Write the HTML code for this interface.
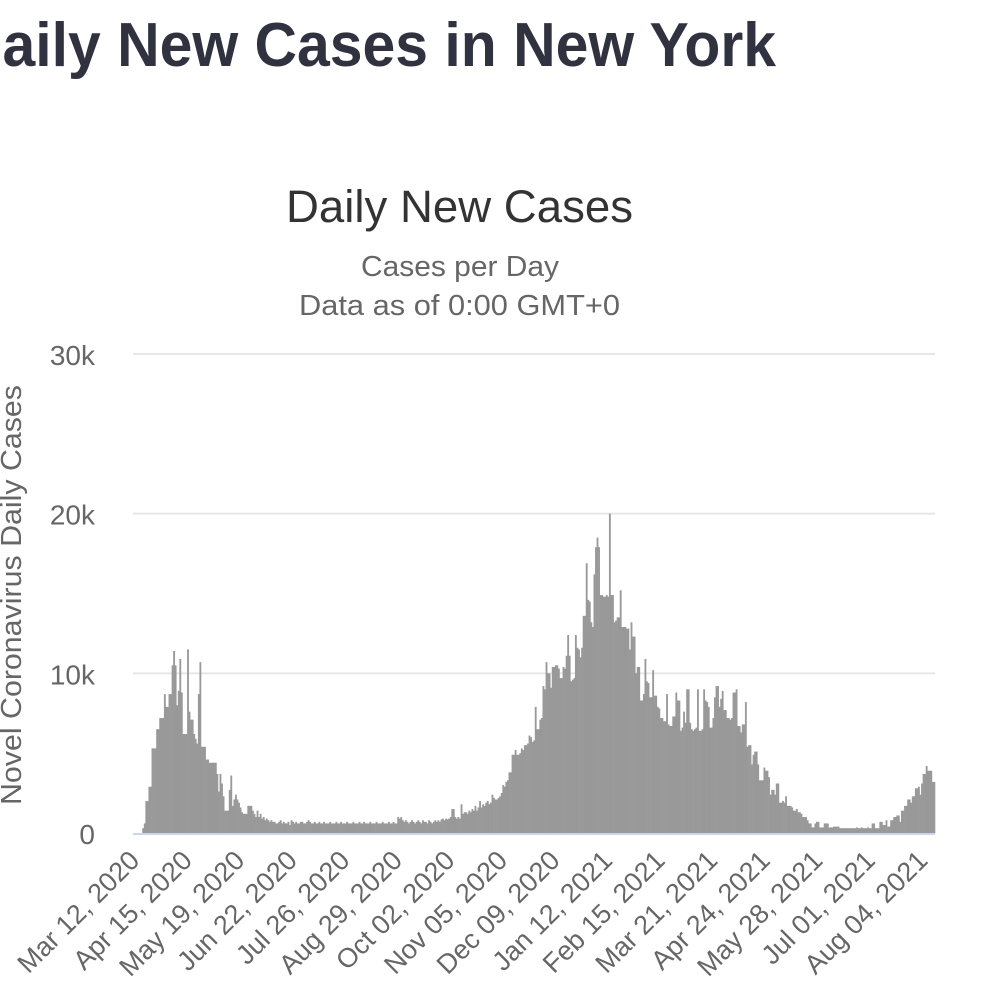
<!DOCTYPE html>
<html><head><meta charset="utf-8"><style>
html,body{margin:0;padding:0;background:#fff;width:999px;height:989px;overflow:hidden}
svg{display:block;font-family:"Liberation Sans",Arial,sans-serif}
</style></head><body>
<svg id="chart" width="999" height="989" viewBox="0 0 999 989" xmlns="http://www.w3.org/2000/svg">
<text x="-40" y="66" font-size="62" font-weight="bold" fill="#30333f" textLength="816" lengthAdjust="spacingAndGlyphs">Daily New Cases in New York</text>
<text x="286" y="222" font-size="45" fill="#333" textLength="347" lengthAdjust="spacingAndGlyphs">Daily New Cases</text>
<text x="361" y="276" font-size="29" fill="#666" textLength="198" lengthAdjust="spacingAndGlyphs">Cases per Day</text>
<text x="299" y="315" font-size="29" fill="#666" textLength="321" lengthAdjust="spacingAndGlyphs">Data as of 0:00 GMT+0</text>
<text transform="translate(21,595) rotate(-90)" font-size="29" fill="#666" text-anchor="middle" textLength="420" lengthAdjust="spacingAndGlyphs">Novel Coronavirus Daily Cases</text>
<g id="grid"></g>
<g id="bars"></g>
<g id="xaxis"></g>
<g id="yaxis"></g>
</svg>
<script>
const startDate = "2020-03-06";
const xTickLabels = ["Mar 12, 2020","Apr 15, 2020","May 19, 2020","Jun 22, 2020","Jul 26, 2020","Aug 29, 2020","Oct 02, 2020","Nov 05, 2020","Dec 09, 2020","Jan 12, 2021","Feb 15, 2021","Mar 21, 2021","Apr 24, 2021","May 28, 2021","Jul 01, 2021","Aug 04, 2021"];
const yTickValues = [0,10000,20000,30000];
const yTickLabels = ["0","10k","20k","30k"];
const preOutbreak = [0,0,0,0,0,0];
const waveSpring2020 = [0.3,0.6,2.0,2.0,2.9,2.9,5.3,5.3,5.3,6.5,6.5,7.2,7.2,7.2,8.7,7.9,7.9,8.7,8.7,10.5,11.4,10.5,8.0,8.9,10.9,8.8,6.2,6.2,6.2,11.5,7.6,7.1,7.1,6.2,5.9,5.6,8.7,10.7,5.4,5.4,5.4,4.6,4.6,4.4,4.4,4.4,4.4,4.4,3.7,2.6,3.7,3.1,2.3,1.4,1.4,1.4,2.7,3.6,1.7,2.1,2.4,2.1,1.9,1.6,1.3,1.2,1.2,1.2,1.7,1.7,1.7,1.4,1.2,1.0,1.4,1.0,1.2,0.9,1.0,0.8,0.9,0.8,0.7,0.8,0.7];
const summer2020 = [0.7,0.6,0.6,0.7,0.8,0.6,0.7,0.6,0.6,0.7,0.5,0.8,0.7,0.6,0.7,0.6,0.6,0.7,0.7,0.6,0.6,0.7,0.8,0.7,0.6,0.6,0.7,0.6,0.6,0.7,0.6,0.6,0.7,0.6,0.6,0.6,0.7,0.6,0.6,0.6,0.7,0.6,0.6,0.7,0.6,0.6,0.6,0.7,0.6,0.6,0.6,0.7,0.6,0.6,0.6,0.7,0.6,0.6,0.7,0.6,0.6,0.6,0.7,0.6,0.6,0.6,0.7,0.6,0.6,0.6,0.7,0.6,0.6,0.6,0.7,0.6,0.6,0.7,0.6,0.6,1.0,0.9,1.0,0.8,0.7,0.8,0.7,0.6,0.7,0.8,0.7,0.6,0.7,0.8];
const winter2020 = [0.7,0.6,0.8,0.7,0.7,0.6,0.8,0.7,0.6,0.7,0.8,0.7,0.8,0.7,0.85,0.9,0.8,0.9,0.85,0.9,1.0,1.5,1.5,1.0,0.9,1.0,0.9,1.8,1.2,1.3,1.3,1.2,1.4,1.3,1.5,1.4,1.7,1.4,1.6,2.0,1.6,1.8,1.7,1.9,2.0,1.8,1.9,2.4,2.2,2.1,2.1,2.2,2.3,2.5,3.0,2.9,3.2,3.3,3.8,3.8,4.9,4.9,5.2,4.9,4.9,5.0,5.3,5.2,5.5,5.5,5.6,6.1,6.0,5.7,5.8,7.9,6.5,6.5,7.1,7.2,9.2,9.0,10.7,10.0,10.0,9.1,10.4,10.4,10.5,10.5,10.3,9.7,9.7,10.4,10.3,11.1,12.4,11.1,9.5,9.6,9.7,12.4,11.6,11.5,11.0,11.6,13.6,13.6,16.9,14.6,14.5,13.2,12.9,16.2,17.9,18.5,17.9,14.9,14.9,14.8,14.8,14.9,14.8,20.0,14.9,14.9,13.2,13.3,13.5,13.5,15.2,12.9,12.9,12.9,12.8,12.8,11.5,13.2,12.3,12.3,10.0,10.4,10.4,8.3,8.3,8.7,10.9,9.5,9.4,8.5,8.5,10.2,8.6,8.6,7.9,7.8,7.2,7.2,7.0,7.0,8.7,6.8,6.7,6.7,7.3,7.3,8.8,8.3,8.3];
const spring2021 = [6.4,6.6,7.6,6.9,9.0,9.0,6.9,6.5,6.4,6.5,6.6,9.0,6.4,6.4,6.5,9.0,8.3,8.2,7.9,6.6,6.6,7.2,8.5,9.2,9.2,7.9,8.4,8.9,7.7,7.7,7.2,7.2,7.1,7.2,8.8,8.8,9.0,6.7,6.7,6.3,6.8,6.8,8.2,5.4,5.5,5.5,4.3,4.9,5.1,5.1,4.3,3.3,3.3,3.3,4.1,3.9,3.9,3.5,2.4,2.7,2.7,2.4,3.1,3.1,1.9,1.9,2.0,1.9,2.3,1.7,1.7,1.7,1.6,1.4,1.4,1.5,1.3,1.3,1.2,1.0,1.0,1.0,0.8,0.6,0.6,0.35,0.35,0.6,0.7,0.7,0.35,0.35,0.35,0.6,0.6,0.6,0.35,0.35,0.35,0.4,0.4,0.4,0.4,0.3,0.3,0.3,0.3,0.3,0.3,0.3,0.3,0.3,0.3,0.3,0.35,0.3,0.3,0.35,0.3,0.3,0.3,0.35,0.3,0.3,0.6,0.6,0.3,0.3,0.3,0.7,0.7,0.5,0.5,0.8,0.4,0.4,0.8,0.8,1.0,1.0,1.1,1.1,0.7,1.4,1.4,1.7,1.7,2.1,2.1,1.9,2.3,2.3,2.8,2.8,2.9,2.4,3.1,3.7,3.7,4.2,3.9,3.9,3.9,3.2,3.2];

const values = [].concat(preOutbreak, waveSpring2020, summer2020, winter2020, spring2021).map(v => v * 1000);

const NS = "http://www.w3.org/2000/svg";
const plotLeft = 133, plotRight = 935, plotTop = 354, plotBottom = 833;
const yMax = 30000;
const bw = (plotRight - plotLeft) / values.length;
function xScale(i){ return plotLeft + i * bw; }
function yScale(v){ return plotBottom - (v / yMax) * (plotBottom - plotTop); }
function dayIndex(label){ return Math.round((new Date(label + " UTC") - new Date(startDate + "T00:00:00Z")) / 86400000); }

const grid = document.getElementById("grid");
const yaxis = document.getElementById("yaxis");
yTickValues.forEach((v, k) => {
  const y = yScale(v);
  if (v > 0) {
    const ln = document.createElementNS(NS, "line");
    
    
    ln.setAttribute("x1", plotLeft); ln.setAttribute("x2", plotRight);
    ln.setAttribute("y1", y); ln.setAttribute("y2", y);
    ln.setAttribute("stroke", "#e6e6e6"); ln.setAttribute("stroke-width", "2");
    grid.appendChild(ln);
  }
  const t = document.createElementNS(NS, "text");
  
  
  t.setAttribute("x", 95); t.setAttribute("y", y + 11);
  t.setAttribute("font-size", "28"); t.setAttribute("fill", "#666");
  t.setAttribute("text-anchor", "end");
  t.textContent = yTickLabels[k];
  yaxis.appendChild(t);
});

const bars = document.getElementById("bars");
values.forEach((v, i) => {
  if (v <= 0) return;
  const r = document.createElementNS(NS, "rect");
  
  
  r.setAttribute("x", xScale(i)); r.setAttribute("width", bw + 0.3);
  r.setAttribute("y", yScale(v)); r.setAttribute("height", plotBottom - yScale(v));
  r.setAttribute("fill", "#999999");
  bars.appendChild(r);
});

const xaxis = document.getElementById("xaxis");
const axisLine = document.createElementNS(NS, "line");


axisLine.setAttribute("x1", plotLeft); axisLine.setAttribute("x2", plotRight);
axisLine.setAttribute("y1", plotBottom + 1); axisLine.setAttribute("y2", plotBottom + 1);
axisLine.setAttribute("stroke", "#ccd6eb"); axisLine.setAttribute("stroke-width", "2");
xaxis.appendChild(axisLine);
xTickLabels.forEach(lbl => {
  const x = xScale(dayIndex(lbl) + 0.5);
  const t = document.createElementNS(NS, "text");
  
  
  t.setAttribute("transform", "translate(" + (x - 2) + "," + 862 + ") rotate(-45)");
  t.setAttribute("font-size", "27"); t.setAttribute("fill", "#666");
  t.setAttribute("text-anchor", "end");
  t.textContent = lbl;
  xaxis.appendChild(t);
});
</script>
</body></html>
